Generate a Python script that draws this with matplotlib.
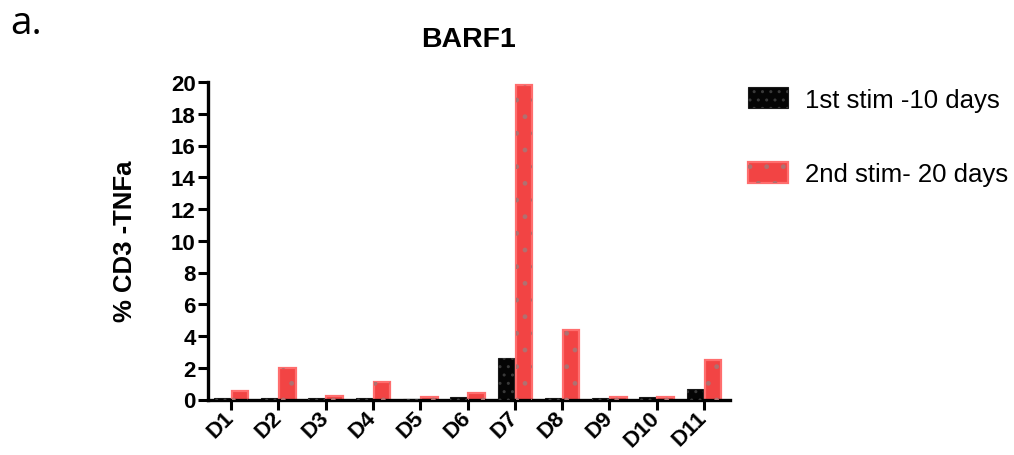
import matplotlib
matplotlib.use("Agg")
import matplotlib.pyplot as plt
from matplotlib.legend_handler import HandlerTuple
import numpy as np

# Donors and % CD3+ TNFa+ cells after each stimulation round
donors = ["D1", "D2", "D3", "D4", "D5", "D6", "D7", "D8", "D9", "D10", "D11"]
stim1_10d = [0.10, 0.08, 0.08, 0.10, 0.03, 0.15, 2.63, 0.12, 0.12, 0.15, 0.66]
stim2_20d = [0.55, 1.96, 0.20, 1.12, 0.15, 0.40, 19.78, 4.40, 0.15, 0.15, 2.48]
series_labels = ["1st stim -10 days", "2nd stim- 20 days"]
y_ticks = list(range(0, 21, 2))

plt.rcParams["font.family"] = ["Liberation Sans", "DejaVu Sans"]
plt.rcParams["hatch.linewidth"] = 1.0

fig = plt.figure(figsize=(10.14, 4.56), dpi=100)
ax = fig.add_axes([208 / 1014, 1 - 400.5 / 456, (730 - 208) / 1014, (400.5 - 83) / 456])

x = np.arange(len(donors))
w = 0.35
off = 0.19

# first stimulation: black bars with a dark checker texture
b1 = ax.bar(x - off, stim1_10d, width=w, color="#050505", edgecolor="#1a1a1a",
            linewidth=0.8, zorder=2)
b1h = ax.bar(x - off, stim1_10d, width=w, color="none", edgecolor="#3a3a3a",
             hatch="..", linewidth=0, zorder=3)
# second stimulation: red bars with a light rim and grey dotted texture
b2 = ax.bar(x + off, stim2_20d, width=w, color="#F24444", edgecolor="#FF6E6E",
            linewidth=1.6, zorder=2)
b2h = ax.bar(x + off, stim2_20d, width=w, color="none", edgecolor="#B07070",
             hatch=".", linewidth=0, zorder=3)

ax.set_xlim(-0.49, len(donors) - 1 + 0.55)
ax.set_ylim(0, 20)
ax.set_yticks(y_ticks)
ax.set_yticklabels([str(t) for t in y_ticks], fontsize=16, fontweight="bold")
ax.set_xticks(x)
ax.set_xticklabels(donors, fontsize=16, fontweight="bold", rotation=45,
                   ha="right", va="center", rotation_mode="anchor")

for side in ("top", "right"):
    ax.spines[side].set_visible(False)
for side in ("left", "bottom"):
    ax.spines[side].set_linewidth(2.4)
    ax.spines[side].set_color("black")
ax.tick_params(axis="both", direction="out", length=7.5, width=2.2, color="black", pad=1.5)
ax.tick_params(axis="x", pad=3)

ax.set_ylabel("% CD3 -TNFa", fontsize=18.5, fontweight="bold", labelpad=24)
ax.set_title("BARF1", fontsize=20.5, fontweight="bold", pad=26)

fig.text(10 / 1014, 1 - 24 / 456, "a.", fontsize=28, family=["Open Sans", "DejaVu Sans"],
         ha="left", va="center")

ax.legend([(b1[0], b1h[0]), (b2[0], b2h[0])], series_labels,
          handler_map={tuple: HandlerTuple(ndivide=1, pad=0)},
          loc="upper left", bbox_to_anchor=(748 / 1014, 1 - 88 / 456),
          bbox_transform=fig.transFigure, frameon=False, fontsize=18.5,
          handlelength=1.55, handleheight=0.9, handletextpad=0.65,
          labelspacing=1.95, borderpad=0, borderaxespad=0)

fig.savefig("out.png", dpi=100)
